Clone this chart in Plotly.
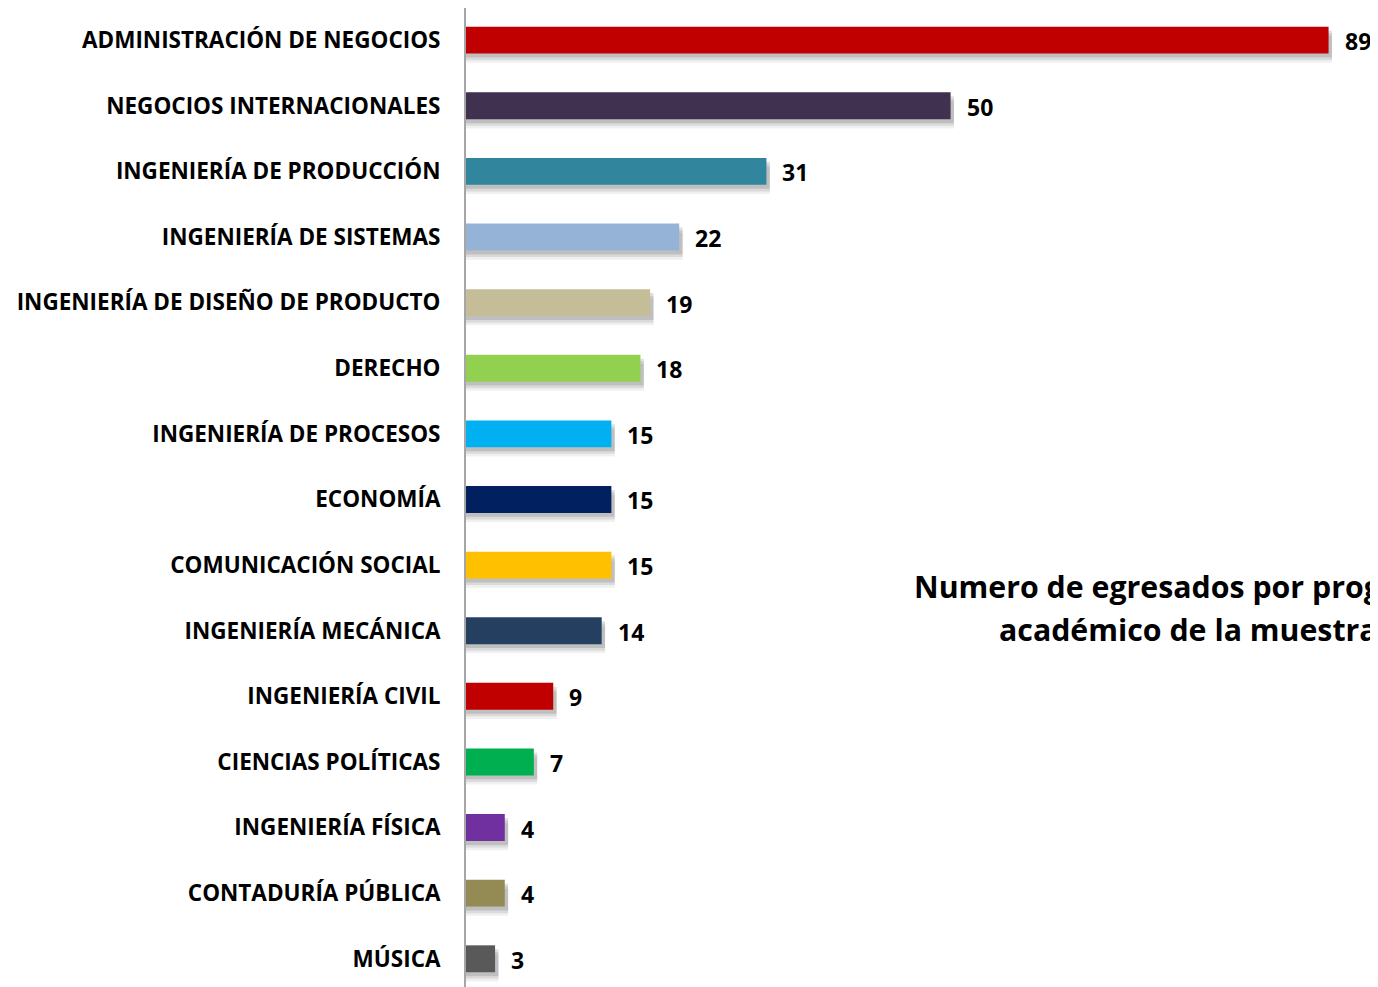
import plotly.graph_objects as go

programas = [
    "ADMINISTRACIÓN DE NEGOCIOS",
    "NEGOCIOS INTERNACIONALES",
    "INGENIERÍA DE PRODUCCIÓN",
    "INGENIERÍA DE SISTEMAS",
    "INGENIERÍA DE DISEÑO DE PRODUCTO",
    "DERECHO",
    "INGENIERÍA DE PROCESOS",
    "ECONOMÍA",
    "COMUNICACIÓN SOCIAL",
    "INGENIERÍA MECÁNICA",
    "INGENIERÍA CIVIL",
    "CIENCIAS POLÍTICAS",
    "INGENIERÍA FÍSICA",
    "CONTADURÍA PÚBLICA",
    "MÚSICA",
]
egresados = [89, 50, 31, 22, 19, 18, 15, 15, 15, 14, 9, 7, 4, 4, 3]
colores = [
    "#C00000", "#403151", "#31859C", "#95B3D7", "#C4BD97",
    "#92D050", "#00B0F0", "#002060", "#FFC000", "#243F60",
    "#C00000", "#00B050", "#7030A0", "#948A54", "#595959",
]
titulo = ["Numero de egresados por programa", "académico de la muestra"]

FONT = "Open Sans"
pos = list(range(len(programas)))
bw = 0.41

fig = go.Figure()

# soft drop shadow under each bar
for d, a in [(0.14, 0.06), (0.10, 0.09), (0.06, 0.12)]:
    fig.add_trace(go.Bar(
        y=pos, x=[v + 0.35 for v in egresados], orientation="h",
        width=bw, offset=-bw / 2 + d,
        marker=dict(color=f"rgba(0,0,0,{a})", line=dict(width=0)),
        hoverinfo="skip", showlegend=False,
    ))

fig.add_trace(go.Bar(
    y=pos, x=egresados, orientation="h",
    width=bw, offset=-bw / 2,
    marker=dict(color=colores, line=dict(width=0)),
    showlegend=False,
))

for p, v in zip(pos, egresados):
    fig.add_annotation(
        x=v, y=p, xref="x", yref="y", text=f"<b>{v}</b>",
        showarrow=False, xanchor="left", xshift=14, yshift=-1,
        font=dict(family=FONT, size=23, color="#000000"),
    )

# title sits right of the bars and runs past the page edge
for line, xp, yp in zip(titulo, [0.4890, 0.5822], [0.4096, 0.3647]):
    fig.add_annotation(
        x=xp, y=yp, xref="paper", yref="paper", text=f"<b>{line}</b>",
        showarrow=False, xanchor="left", yanchor="middle",
        font=dict(family=FONT, size=30.3, color="#000000"),
    )

fig.update_xaxes(visible=False, range=[0, 94.1], fixedrange=True)
fig.update_yaxes(
    range=[14.43, -0.49],
    tickvals=pos,
    ticktext=[f"<b>{p}</b>" for p in programas],
    showline=True, linecolor="#A6A6A6", linewidth=2,
    showgrid=False, zeroline=False,
    ticks="outside", ticklen=19, tickcolor="rgba(0,0,0,0)",
    tickfont=dict(family=FONT, size=22.5, color="#000000"),
)
fig.update_layout(
    width=1370, height=979,
    barmode="overlay",
    plot_bgcolor="white", paper_bgcolor="white",
    margin=dict(l=458, r=0, t=0, b=0),
    hovermode=False,
)

fig.write_html("out.html")
